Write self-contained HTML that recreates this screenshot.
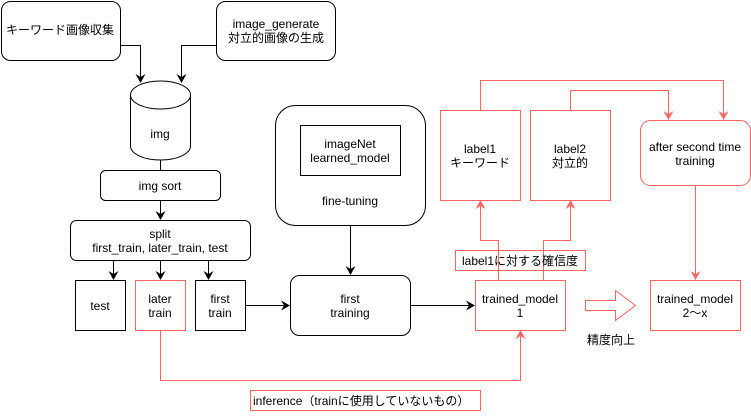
<!DOCTYPE html>
<html><head><meta charset="utf-8"><style>
html,body{margin:0;padding:0;background:#fff;}
svg text{font-family:"Liberation Sans","Noto Sans CJK JP",sans-serif;font-size:12px;fill:#000;text-anchor:middle;}
</style></head><body>
<svg width="751" height="411" viewBox="0 0 751 411" xmlns="http://www.w3.org/2000/svg">
<defs>
<marker id="ab" markerWidth="10" markerHeight="10" refX="8" refY="5" orient="auto" markerUnits="userSpaceOnUse"><path d="M0,0 L9,5 L0,10 L3,5 Z" fill="#000"/></marker>
<marker id="ar" markerWidth="10" markerHeight="10" refX="8" refY="5" orient="auto" markerUnits="userSpaceOnUse"><path d="M0,0 L9,5 L0,10 L3,5 Z" fill="#f66"/></marker>
</defs>
<g fill="none" stroke="#000" stroke-width="1">
<rect x="1.5" y="1.5" width="119" height="59" rx="9"/>
<rect x="216.5" y="1.5" width="119" height="59" rx="9"/>
<path d="M120,45.5 H140.5 V82" marker-end="url(#ab)"/>
<path d="M216,45.5 H181.5 V82" marker-end="url(#ab)"/>
<path d="M130.5,95 V146 A30,14 0 0 0 190.5,146 V95"/>
<ellipse cx="160.5" cy="95" rx="30" ry="14"/>
<path d="M160.5,160 V170"/>
<rect x="100.5" y="170.5" width="120" height="30" rx="5"/>
<path d="M160.5,200 V219" marker-end="url(#ab)"/>
<rect x="70.5" y="220.5" width="180" height="40" rx="6"/>
<path d="M113.5,260 V279" marker-end="url(#ab)"/>
<path d="M160.5,260 V279" marker-end="url(#ab)"/>
<path d="M208.5,260 V279" marker-end="url(#ab)"/>
<rect x="75.5" y="280.5" width="50" height="50"/>
<rect x="195.5" y="280.5" width="50" height="50"/>
<path d="M245,305.5 H289" marker-end="url(#ab)"/>
<rect x="290.5" y="275.5" width="120" height="60" rx="9"/>
<rect x="275.5" y="105.5" width="150" height="120" rx="20"/>
<rect x="300.5" y="125.5" width="100" height="50"/>
<path d="M350.5,225 V274" marker-end="url(#ab)"/>
<path d="M410,305.5 H474" marker-end="url(#ab)"/>
</g>
<g fill="none" stroke="#f66" stroke-width="1">
<rect x="135.5" y="280.5" width="50" height="50"/>
<rect x="440.5" y="110.5" width="80" height="90"/>
<rect x="530.5" y="110.5" width="80" height="90"/>
<rect x="640.5" y="120.5" width="110" height="65" rx="10"/>
<rect x="475.5" y="280.5" width="90" height="50"/>
<rect x="650.5" y="280.5" width="90" height="50"/>
<rect x="455.5" y="250.5" width="130" height="20"/>
<rect x="250.5" y="390.5" width="230" height="20"/>
<path d="M498.5,280 V240.5 H480.5 V201" marker-end="url(#ar)"/>
<path d="M543.5,280 V240.5 H570.5 V201" marker-end="url(#ar)"/>
<path d="M480.5,110 V80.5 H723.5 V119" marker-end="url(#ar)"/>
<path d="M570.5,110 V90.5 H668.5 V119" marker-end="url(#ar)"/>
<path d="M695.5,185 V279" marker-end="url(#ar)"/>
<path d="M160.5,330 V380.5 H520.5 V331" marker-end="url(#ar)"/>
<path d="M585.5,300.5 H615.5 V290.5 L635.5,305.5 L615.5,320.5 V310.5 H585.5 Z"/>
</g>
<text x="60" y="34">キーワード画像収集</text>
<text x="276" y="28">image_generate</text>
<text x="276" y="42">対立的画像の生成</text>
<text x="160" y="138">img</text>
<text x="160" y="190">img sort</text>
<text x="160" y="238">split</text>
<text x="160" y="252">first_train, later_train, test</text>
<text x="100" y="310">test</text>
<text x="160" y="303">later</text>
<text x="160" y="317">train</text>
<text x="220" y="303">first</text>
<text x="220" y="317">train</text>
<text x="350" y="303">first</text>
<text x="350" y="317">training</text>
<text x="350" y="148">imageNet</text>
<text x="350" y="162">learned_model</text>
<text x="350" y="205">fine-tuning</text>
<text x="480" y="153">label1</text>
<text x="480" y="167">キーワード</text>
<text x="570" y="153">label2</text>
<text x="570" y="167">対立的</text>
<text x="695" y="151">after second time</text>
<text x="695" y="165">training</text>
<text x="520" y="303">trained_model</text>
<text x="520" y="317">1</text>
<text x="695" y="303">trained_model</text>
<text x="695" y="317">2〜x</text>
<text x="520" y="265">label1に対する確信度</text>
<text x="611" y="344">精度向上</text>
<text x="253" y="405" style="text-anchor:start">inference（trainに使用していないもの）</text>
</svg>
</body></html>
